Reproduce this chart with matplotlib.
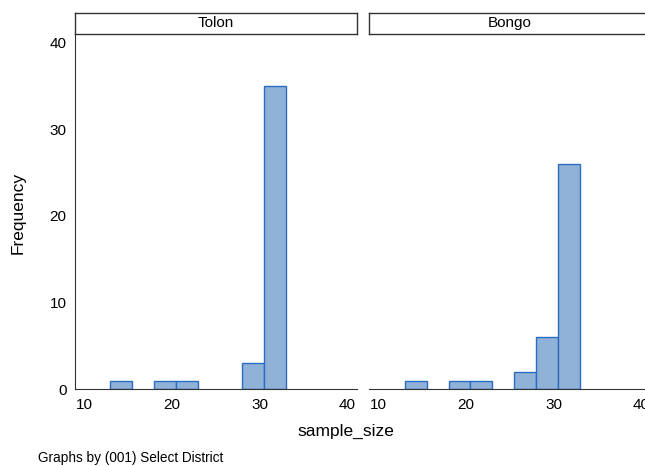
import matplotlib
matplotlib.use("Agg")
import matplotlib.pyplot as plt
import numpy as np

plt.rcParams['font.family'] = ['Liberation Sans', 'DejaVu Sans']

# histogram bins (left edges, width 2.5) and frequencies per district
bin_left = [13.0, 15.5, 18.0, 20.5, 23.0, 25.5, 28.0, 30.5]
bin_width = 2.5
districts = ["Tolon", "Bongo"]
tolon_freq = [1, 0, 1, 1, 0, 0, 3, 35]
bongo_freq = [1, 0, 1, 1, 0, 2, 6, 26]
x_ticks = [10, 20, 30, 40]
y_ticks = [0, 10, 20, 30, 40]

W, H = 645, 466
fill = '#90b1d8'
edge = '#2a6cbf'
axis_col = '#333333'

fig = plt.figure(figsize=(W / 100, H / 100), dpi=100)


def fx(px):
    return px / W


def fy(py):
    return 1 - py / H


panels = [(75.0, 356.7), (369.3, 651.0)]
top, bottom = 33.7, 389.3
strip_top = 12.7

for i, (name, freq) in enumerate(zip(districts, [tolon_freq, bongo_freq])):
    x0, x1 = panels[i]
    ax = fig.add_axes([fx(x0), fy(bottom), fx(x1 - x0), fy(top) - fy(bottom)])
    lefts = np.array(bin_left)
    counts = np.array(freq)
    keep = counts > 0
    ax.bar(lefts[keep], counts[keep], width=bin_width, align='edge',
           color=fill, edgecolor=edge, linewidth=1.0, zorder=2)
    ax.set_xlim(8.97, 41.07)
    ax.set_ylim(0, 41.03)
    ax.set_xticks(x_ticks)
    ax.set_yticks(y_ticks)
    ax.tick_params(length=0, labelsize=11, colors='black')
    ax.tick_params(axis='x', pad=6.0)
    ax.tick_params(axis='y', pad=6.0)
    for s in ['top', 'right']:
        ax.spines[s].set_visible(False)
    ax.spines['bottom'].set_color(axis_col)
    ax.spines['left'].set_color(axis_col)
    if i == 1:
        ax.spines['left'].set_visible(False)
        ax.set_yticklabels([])
    ax.patch.set_visible(False)

    # strip label box
    sx = fig.add_axes([fx(x0), fy(top), fx(x1 - x0), fy(strip_top) - fy(top)])
    sx.set_xticks([])
    sx.set_yticks([])
    for s in sx.spines.values():
        s.set_color(axis_col)
        s.set_linewidth(1.0)
    sx.text(0.5, 0.5, name, ha='center', va='center', fontsize=11,
            transform=sx.transAxes)

fig.text(fx(18), fy(213), "Frequency", rotation=90, ha='center', va='center',
         fontsize=12.5)
fig.text(fx(346), fy(431), "sample_size", ha='center', va='center',
         fontsize=12.5)
fig.text(fx(38), fy(458), "Graphs by (001) Select District", ha='left',
         va='center', fontsize=9.8)

fig.savefig("out.png", dpi=100)
